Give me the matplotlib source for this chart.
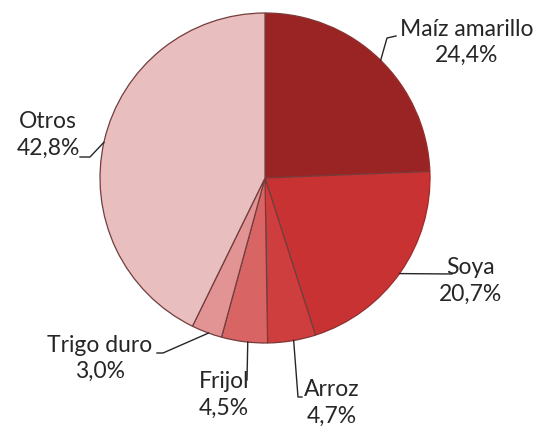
import numpy as np
import matplotlib
matplotlib.use("Agg")
import matplotlib.pyplot as plt

categories = ["Maíz amarillo", "Soya", "Arroz", "Frijol", "Trigo duro", "Otros"]
values = [24.4, 20.7, 4.7, 4.5, 3.0, 42.8]
value_labels = ["24,4%", "20,7%", "4,7%", "4,5%", "3,0%", "42,8%"]
colors = ["#9A2424", "#C83232", "#CE3E3E", "#D96464", "#E29494", "#E8BEBE"]

plt.rcParams['font.family'] = ['Lato', 'DejaVu Sans']

fig = plt.figure(figsize=(5.41, 4.29), dpi=100)
ax = fig.add_axes([0, 0, 1, 1])

cx, cy, r = 265, 251, 165
wedges, _ = ax.pie(values, colors=colors, startangle=90, counterclock=False,
                   center=(cx, cy), radius=r, frame=True,
                   wedgeprops=dict(edgecolor="#7A3A3A", linewidth=0.9))
ax.set_xlim(0, 541)
ax.set_ylim(0, 429)
ax.axis("off")

def py(y):
    return 429 - y

label_pos = [
    (467, 29, "center"),
    (471, 268, "center"),
    (332, 390, "center"),
    (224, 382, "center"),
    (100, 345, "center"),
    (48, 122, "center"),
]
# leader: attach angle on pie edge (deg), then intermediate points (pixel coords, y from top)
leaders = [
    (45.5, [(387, 38), (396, 36)]),
    (-35.4, [(452, 274)]),
    (-80, [(298, 397), (302, 397)]),
    (-96, [(247, 380)]),
    (-110, [(163, 353), (157, 353)]),
    (167.5, [(90, 157), (80, 157)]),
]

text_color = "#262626"
fs = 16.5
for cat, vl, (tx, ty, ha), (adeg, pts) in zip(categories, value_labels, label_pos, leaders):
    ang = np.deg2rad(adeg)
    ex, ey = cx + r * np.cos(ang), cy + r * np.sin(ang)
    xs = [ex] + [p[0] for p in pts]
    ys = [ey] + [py(p[1]) for p in pts]
    ax.plot(xs, ys, color="#262626", lw=1.0)
    ax.text(tx, py(ty), cat, ha=ha, va="center", fontsize=fs, color=text_color)
    ax.text(tx, py(ty + 26), vl, ha=ha, va="center", fontsize=fs, color=text_color)

fig.savefig("out.png", dpi=100)
